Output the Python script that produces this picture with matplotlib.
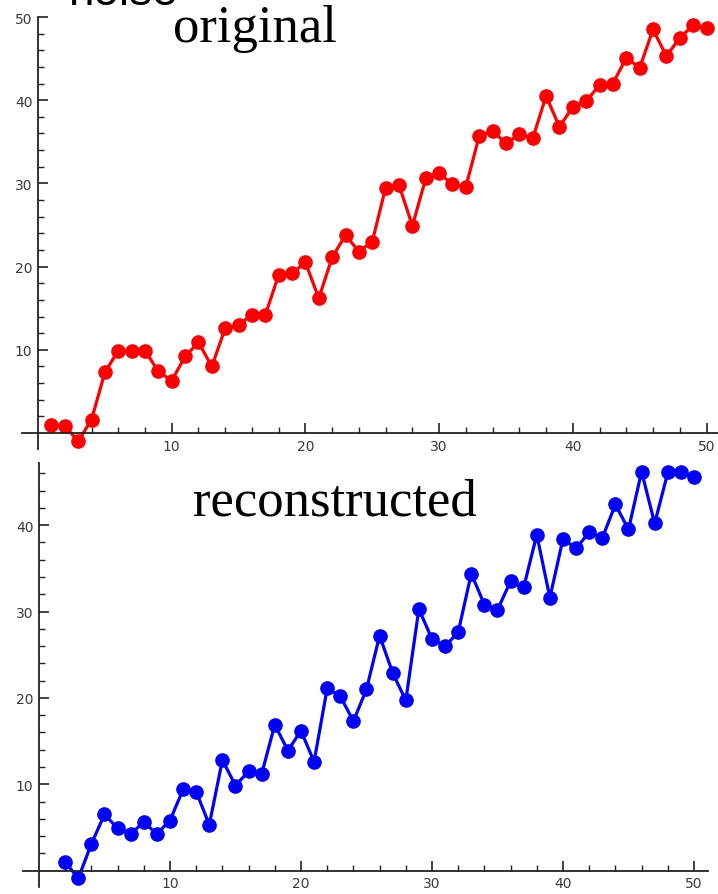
import numpy as np
import matplotlib.pyplot as plt
from matplotlib.ticker import FixedLocator

# data
x_orig = list(range(1, 51))
y_orig = [1.0, 0.9, -1.0, 1.6, 7.3, 9.9, 9.9, 9.9, 7.4, 6.3,
          9.2, 10.9, 8.0, 12.6, 13.0, 14.2, 14.2, 19.0, 19.2, 20.5,
          16.2, 21.1, 23.8, 21.8, 23.0, 29.5, 29.8, 24.9, 30.6, 31.2,
          29.9, 29.6, 35.7, 36.3, 34.8, 35.9, 35.4, 40.5, 36.8, 39.2,
          39.9, 41.8, 42.0, 45.1, 43.9, 48.5, 45.3, 47.5, 49.0, 48.7]

x_rec = list(range(2, 51))
y_rec = [1.0, -0.9, 3.1, 6.5, 4.9, 4.25, 5.6, 4.25, 5.8,
         9.4, 9.15, 5.3, 12.8, 9.85, 11.5, 11.2, 16.9, 13.9, 16.2,
         12.6, 21.1, 20.2, 17.3, 21.0, 27.2, 22.9, 19.7, 30.3, 26.8,
         26.0, 27.6, 34.4, 30.8, 30.2, 33.5, 32.8, 38.9, 31.6, 38.4,
         37.3, 39.2, 38.5, 42.4, 39.5, 46.2, 40.2, 46.1, 46.1, 45.6]

W, H = 718, 895
fig = plt.figure(figsize=(W / 100, H / 100), dpi=100)


def style_axes(ax, xlim, ylim, yticks):
    ax.set_xlim(*xlim)
    ax.set_ylim(*ylim)
    for s in ['top', 'right']:
        ax.spines[s].set_visible(False)
    ax.spines['left'].set_position(('data', 0))
    ax.spines['bottom'].set_position(('data', 0))
    for s in ['left', 'bottom']:
        ax.spines[s].set_linewidth(1.3)
        ax.spines[s].set_color('#222222')
    ax.set_xticks([10, 20, 30, 40, 50])
    ax.set_yticks(yticks)
    ax.xaxis.set_minor_locator(FixedLocator([v for v in range(2, 52, 2) if v % 10]))
    ax.yaxis.set_minor_locator(FixedLocator([v for v in range(2, int(ylim[1]) + 1, 2) if v % 10]))
    ax.tick_params(which='major', direction='in', length=7, width=1.2, color='#222222',
                   labelsize=10, labelcolor='#3a3a3a', pad=4)
    ax.tick_params(which='minor', direction='in', length=4, width=1.0, color='#222222')
    ax.patch.set_alpha(0)


ax1 = fig.add_axes([22 / W, 1 - 450 / H, 696 / W, 432 / H])
ax1.plot(x_orig, y_orig, color='#ff0000', lw=2.3, marker='o', ms=9.5, clip_on=False)
style_axes(ax1, (-1.2, 50.86), (-1.92, 50), [10, 20, 30, 40, 50])

ax2 = fig.add_axes([23 / W, 1 - 888 / H, 685 / W, 424 / H])
ax2.plot(x_rec, y_rec, color='#0000ff', lw=2.3, marker='o', ms=9.5, clip_on=False)
style_axes(ax2, (-1.22, 51.07), (-1.9, 47.2), [10, 20, 30, 40])

fig.text(255 / W, 1 - 42 / H, 'original', ha='center', va='baseline',
         family='Liberation Serif', fontsize=38)
fig.text(335 / W, 1 - 515 / H, 'reconstructed', ha='center', va='baseline',
         family='Liberation Serif', fontsize=38)
# title above, mostly cut off by the top edge
fig.text(68 / W, 1 - 5 / H, 'noise', ha='left', va='baseline',
         family='Liberation Sans', fontsize=33)

fig.savefig('out.png', dpi=100)
